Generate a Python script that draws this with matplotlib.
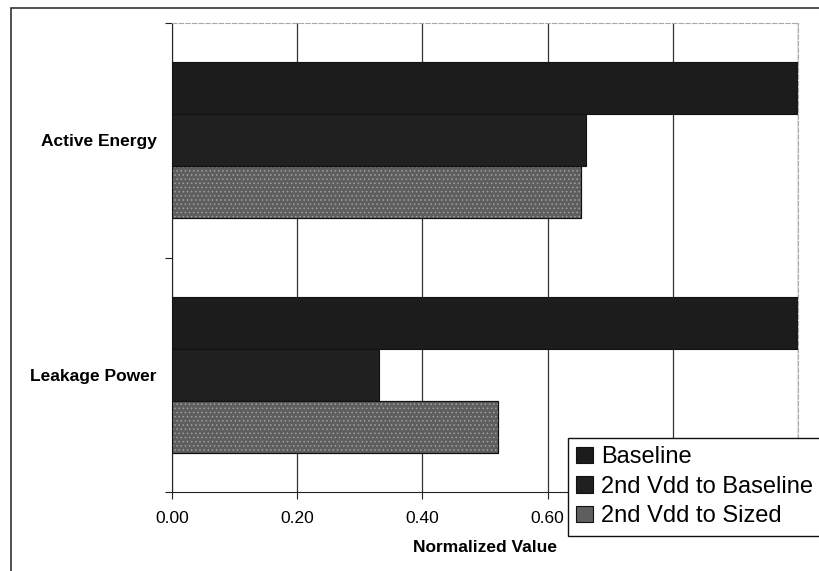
import numpy as np
import matplotlib
matplotlib.use('Agg')
import matplotlib.pyplot as plt
from matplotlib.patches import Rectangle

# data
categories = ['Active Energy', 'Leakage Power']
series_names = ['Baseline', '2nd Vdd to Baseline', '2nd Vdd to Sized']
baseline = [1.00, 1.00]
vdd_baseline = [0.662, 0.331]
vdd_sized = [0.653, 0.52]
xticks = [0.0, 0.2, 0.4, 0.6, 0.8, 1.0]
# 0.80 and 1.00 sit behind the legend in the original, so they are left blank
xticklabels = ['0.00', '0.20', '0.40', '0.60', '', '']

plt.rcParams['font.family'] = ['Liberation Sans', 'DejaVu Sans']
plt.rcParams['hatch.linewidth'] = 0.6

fig = plt.figure(figsize=(8.19, 5.71), dpi=100)
ax = fig.add_axes([172/819, 1-492/571, 626/819, 469/571])

# outer frame of chart
fig.patches.append(Rectangle((11/819, -0.05), 1.0, 1-8/571+0.05, transform=fig.transFigure,
                             fill=False, edgecolor='#333333', linewidth=1.2, clip_on=False))

y = np.arange(len(categories))
h = 0.222
vals = [baseline, vdd_baseline, vdd_sized]
colors = ['#1c1c1c', '#202020', '#5e5e5e']
hatches = [None, None, '....']
for i, (v, c, ht) in enumerate(zip(vals, colors, hatches)):
    ax.barh(y + (i-1)*h, v, height=h, color=c, edgecolor='#111111',
            linewidth=0.8, label=series_names[i], zorder=3)
    if ht:
        ax.barh(y + (i-1)*h, v, height=h, color='none', edgecolor='#a0a0a0',
                hatch=ht, linewidth=0, zorder=3.5)
        ax.barh(y + (i-1)*h, v, height=h, color='none', edgecolor='#111111',
                linewidth=0.8, zorder=4)

ax.set_xlim(0, 1.0)
ax.set_ylim(1.5, -0.5)
ax.set_xticks(xticks)
ax.set_xticklabels(xticklabels, fontsize=12.5)
ax.set_yticks([-0.5, 0.5, 1.5], minor=False)
ax.set_yticklabels([])
ax.set_yticks(y, minor=True)
ax.set_yticklabels(categories, minor=True, fontsize=12.5, fontweight='bold')
ax.tick_params(axis='y', which='minor', length=0, pad=11)
ax.tick_params(axis='y', which='major', length=5, direction='out', color='#222222')
ax.tick_params(axis='x', length=5, direction='out', color='#222222', pad=9)
ax.grid(axis='x', color='#333333', linewidth=0.9, zorder=0)
ax.set_axisbelow(True)
for s in ['top', 'right']:
    ax.spines[s].set_color('#aaaaaa')
    ax.spines[s].set_linestyle((0, (4, 2)))
ax.spines['left'].set_color('#222222')
ax.spines['bottom'].set_color('#222222')
ax.set_xlabel('Normalized Value', fontsize=12.5, fontweight='bold', labelpad=10)

leg = ax.legend(loc='upper left', bbox_to_anchor=(568/819, 1-438/571), bbox_transform=fig.transFigure,
                fontsize=17, frameon=True, fancybox=False, framealpha=1, handlelength=0.7,
                handleheight=0.7, handletextpad=0.35, borderpad=0.35, labelspacing=0.32,
                borderaxespad=0)
leg.get_frame().set_edgecolor('#111111')
leg.get_frame().set_linewidth(1.0)
leg.set_zorder(10)

fig.savefig('out.png', dpi=100)
